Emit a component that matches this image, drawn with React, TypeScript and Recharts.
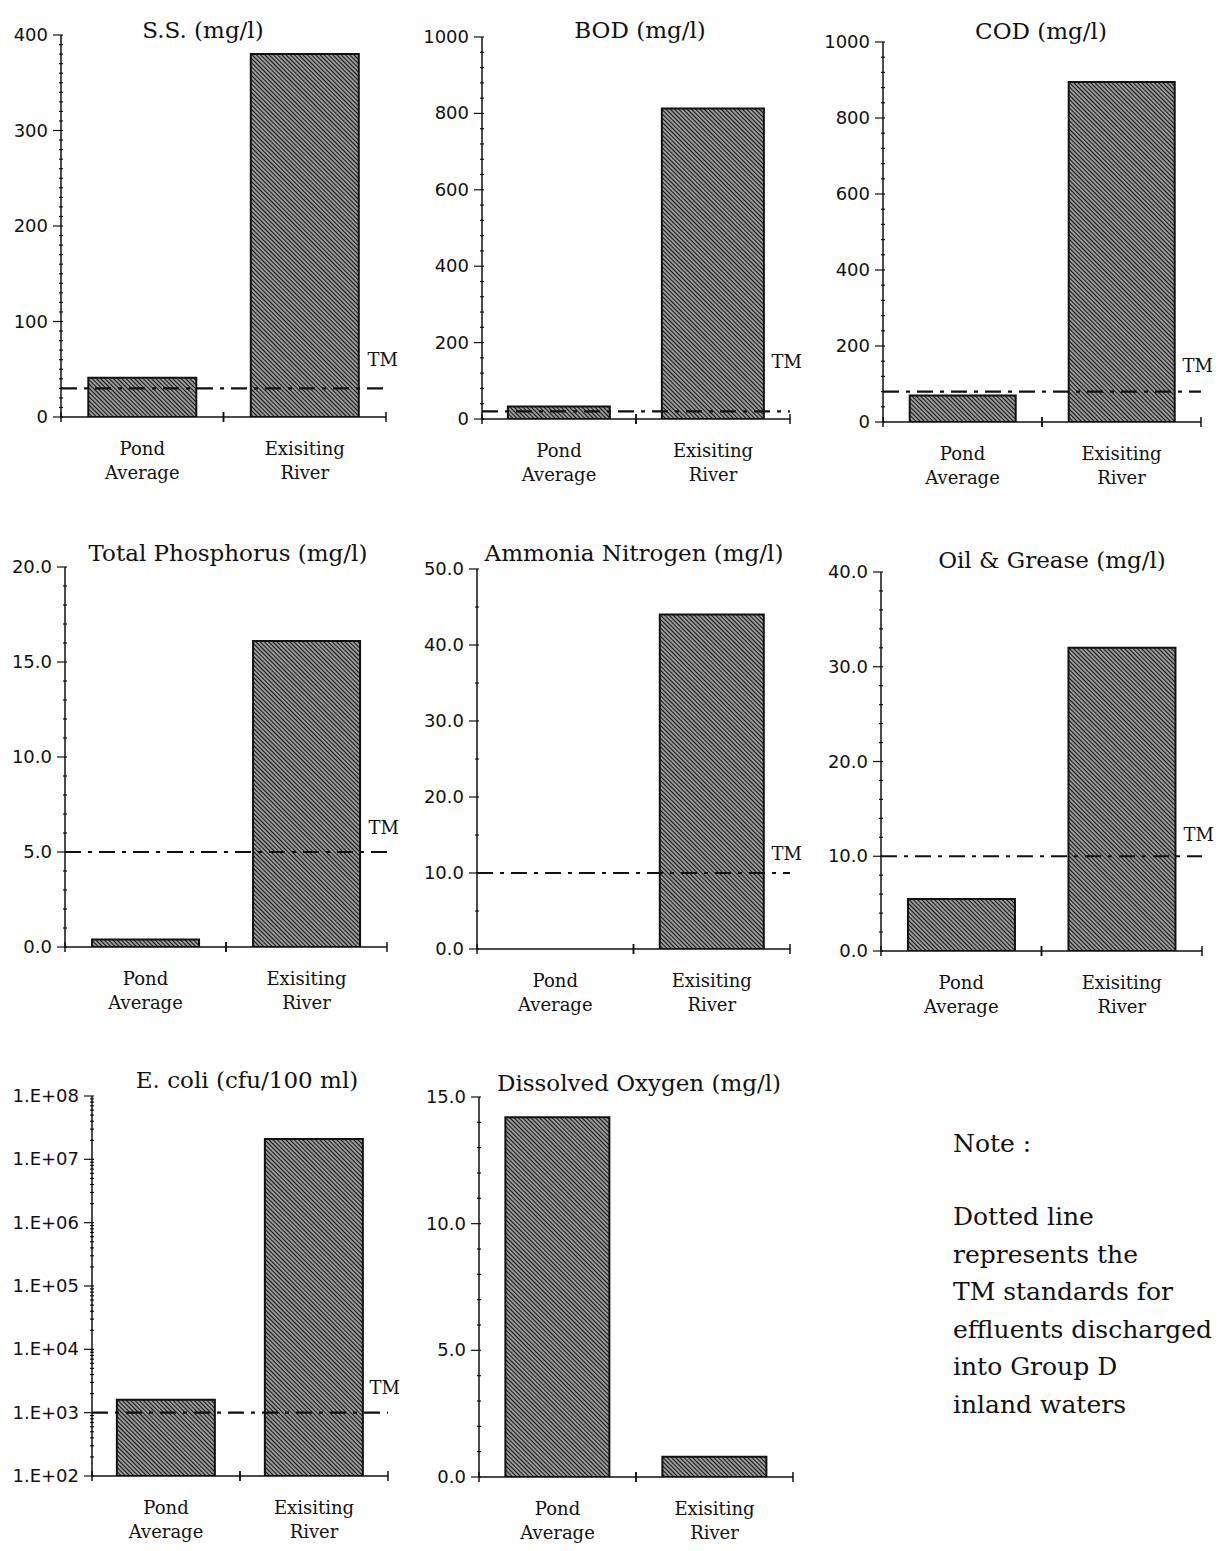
import React from 'react';
import { BarChart, Bar, XAxis, YAxis, ReferenceLine } from 'recharts';

// categories on every panel (two-line labels, split on '|')
const categories = ['Pond|Average', 'Exisiting|River'];

// values, [pond, river]
const ssValues = [41, 380];
const bodValues = [33, 813];
const codValues = [70, 895];
const phosphorusValues = [0.4, 16.1];
const ammoniaValues = [0, 44];
const oilGreaseValues = [5.5, 32];
const ecoliValues = [1600, 21000000];
const oxygenValues = [14.2, 0.8];

// TM standards (dotted line)
const ssTM = 30;
const bodTM = 20;
const codTM = 80;
const phosphorusTM = 5;
const ammoniaTM = 10;
const oilGreaseTM = 10;
const ecoliTM = 1000;

// major tick labels
const ssTicks = [0, 100, 200, 300, 400];
const bodTicks = [0, 200, 400, 600, 800, 1000];
const codTicks = [0, 200, 400, 600, 800, 1000];
const phosphorusTicks = [0, 5, 10, 15, 20];
const ammoniaTicks = [0, 10, 20, 30, 40, 50];
const oilGreaseTicks = [0, 10, 20, 30, 40];
const ecoliTicks = [1e2, 1e3, 1e4, 1e5, 1e6, 1e7, 1e8];
const oxygenTicks = [0, 5, 10, 15];

const noteLines = [
  'Dotted line',
  'represents the',
  'TM standards for',
  'effluents discharged',
  'into Group D',
  'inland waters',
];

const INK = '#111';
const Y_W = 80;
const M_TOP = 20;
const M_RIGHT = 40;
const X_H = 75;

type PanelDef = {
  id: string;
  title: string;
  values: number[];
  tm?: number;
  ticks: number[];
  minor: number;
  decimals: number;
  log?: boolean;
  axisX: number;
  topY: number;
  rightX: number;
  zeroY: number;
  titleX: number;
  titleY: number;
  tmDy?: number;
};

const panels: PanelDef[] = [
  { id: 'ss', title: 'S.S. (mg/l)', values: ssValues, tm: ssTM, ticks: ssTicks, minor: 10, decimals: 0,
    axisX: 61, topY: 35, rightX: 386, zeroY: 417, titleX: 203, titleY: 38, tmDy: 22 },
  { id: 'bod', title: 'BOD (mg/l)', values: bodValues, tm: bodTM, ticks: bodTicks, minor: 40, decimals: 0,
    axisX: 482, topY: 37, rightX: 790, zeroY: 419, titleX: 640, titleY: 38, tmDy: 43 },
  { id: 'cod', title: 'COD (mg/l)', values: codValues, tm: codTM, ticks: codTicks, minor: 40, decimals: 0,
    axisX: 883, topY: 42, rightX: 1201, zeroY: 422, titleX: 1041, titleY: 39, tmDy: 20 },
  { id: 'tp', title: 'Total Phosphorus (mg/l)', values: phosphorusValues, tm: phosphorusTM, ticks: phosphorusTicks, minor: 1, decimals: 1,
    axisX: 65, topY: 567, rightX: 387, zeroY: 947, titleX: 228, titleY: 561, tmDy: 18 },
  { id: 'nh3', title: 'Ammonia Nitrogen (mg/l)', values: ammoniaValues, tm: ammoniaTM, ticks: ammoniaTicks, minor: 5, decimals: 1,
    axisX: 477, topY: 569, rightX: 790, zeroY: 949, titleX: 634, titleY: 561, tmDy: 13 },
  { id: 'og', title: 'Oil & Grease (mg/l)', values: oilGreaseValues, tm: oilGreaseTM, ticks: oilGreaseTicks, minor: 2, decimals: 1,
    axisX: 881, topY: 572, rightX: 1202, zeroY: 951, titleX: 1052, titleY: 568, tmDy: 15 },
  { id: 'ecoli', title: 'E. coli (cfu/100 ml)', values: ecoliValues, tm: ecoliTM, ticks: ecoliTicks, minor: 0, decimals: 0, log: true,
    axisX: 92, topY: 1096, rightX: 388, zeroY: 1476, titleX: 247, titleY: 1088, tmDy: 19 },
  { id: 'do', title: 'Dissolved Oxygen (mg/l)', values: oxygenValues, ticks: oxygenTicks, minor: 1, decimals: 1,
    axisX: 479, topY: 1097, rightX: 793, zeroY: 1477, titleX: 639, titleY: 1091 },
];

// all tick positions (majors + minors), labels only drawn on majors
const buildTicks = (p: PanelDef) => {
  if (p.log) {
    const out: number[] = [];
    for (let k = 2; k < 8; k++) for (let m = 1; m < 10; m++) out.push(m * Math.pow(10, k));
    out.push(1e8);
    return out;
  }
  const max = p.ticks[p.ticks.length - 1];
  const out: number[] = [];
  const n = Math.round(max / p.minor);
  for (let i = 0; i <= n; i++) out.push(Number((i * p.minor).toFixed(6)));
  return out;
};

const isMajor = (p: PanelDef, v: number) => {
  if (p.log) {
    const l = Math.log10(v);
    return Math.abs(l - Math.round(l)) < 1e-6;
  }
  return p.ticks.some((t) => Math.abs(t - v) < 1e-6);
};

const formatTick = (p: PanelDef, v: number) => {
  if (p.log) return `1.E+${String(Math.round(Math.log10(v))).padStart(2, '0')}`;
  return v.toFixed(p.decimals);
};

const Panel = ({ p }: { p: PanelDef }) => {
  const plotW = p.rightX - p.axisX;
  const plotH = p.zeroY - p.topY;
  const width = Y_W + plotW + M_RIGHT;
  const height = M_TOP + plotH + X_H + 5;
  const axisY = M_TOP + plotH;
  const bw = plotW / categories.length;
  const data = categories.map((c, i) => ({ name: c, value: p.values[i] }));
  const allTicks = buildTicks(p);
  const domain = p.log ? [1e2, 1e8] : [0, p.ticks[p.ticks.length - 1]];

  const yTick = (props: any) => {
    const v = props.payload.value;
    const major = isMajor(p, v);
    return (
      <g>
        <line x1={major ? Y_W - 8 : Y_W - 2} x2={Y_W + 2} y1={props.y} y2={props.y} stroke={INK} strokeWidth={1.2} />
        {major && (
          <text x={Y_W - 13} y={props.y} dy={6} textAnchor="end" fontFamily="DejaVu Sans" fontSize={18} fill={INK}>
            {formatTick(p, v)}
          </text>
        )}
      </g>
    );
  };

  const xTick = (props: any) => {
    const [l1, l2] = String(props.payload.value).split('|');
    const x = props.x;
    return (
      <g>
        <line x1={x - bw / 2} x2={x - bw / 2} y1={axisY - 5} y2={axisY + 5} stroke={INK} strokeWidth={1.5} />
        <line x1={x + bw / 2} x2={x + bw / 2} y1={axisY - 5} y2={axisY + 5} stroke={INK} strokeWidth={1.5} />
        <text x={x} y={axisY + 38} textAnchor="middle" fontFamily="DejaVu Serif" fontSize={18} fill={INK}>{l1}</text>
        <text x={x} y={axisY + 62} textAnchor="middle" fontFamily="DejaVu Serif" fontSize={18} fill={INK}>{l2}</text>
      </g>
    );
  };

  const tmLabel = (props: any) => {
    const vb = props.viewBox || {};
    return (
      <text x={(vb.x || 0) + (vb.width || 0) + 12} y={(vb.y || 0) - (p.tmDy || 20)} textAnchor="end"
        fontFamily="DejaVu Serif" fontSize={18} fill={INK}>
        TM
      </text>
    );
  };

  return (
    <div style={{ position: 'absolute', left: p.axisX - Y_W, top: p.topY - M_TOP }}>
      <BarChart width={width} height={height} data={data} barCategoryGap="16.8%"
        margin={{ top: M_TOP, right: M_RIGHT, bottom: 5, left: 0 }}>
        <defs>
          <pattern id={`hatch-${p.id}`} patternUnits="userSpaceOnUse" width={3} height={3} patternTransform="rotate(-45)">
            <rect width={3} height={3} fill="#fff" />
            <line x1={1.5} y1={0} x2={1.5} y2={3} stroke={INK} strokeWidth={1.85} />
          </pattern>
        </defs>
        <XAxis dataKey="name" height={X_H} interval={0} tickLine={false}
          axisLine={{ stroke: INK, strokeWidth: 1.5 }} tick={xTick} />
        <YAxis type="number" width={Y_W} domain={domain} scale={p.log ? 'log' : 'auto'} allowDataOverflow
          ticks={allTicks} interval={0} tickLine={false} axisLine={{ stroke: INK, strokeWidth: 1.5 }} tick={yTick} />
        <Bar dataKey="value" fill={`url(#hatch-${p.id})`} stroke={INK} strokeWidth={2} isAnimationActive={false} />
        {p.tm !== undefined && (
          <ReferenceLine y={p.tm} stroke={INK} strokeWidth={2.2} strokeDasharray="16 7 4 7" label={tmLabel} />
        )}
      </BarChart>
    </div>
  );
};

export default function App() {
  return (
    <div style={{ position: 'absolute', left: 0, top: 0, width: 1224, height: 1551, background: '#fff', overflow: 'hidden' }}>
      {panels.map((p) => (
        <Panel key={p.id} p={p} />
      ))}
      <svg width={1224} height={1551} style={{ position: 'absolute', left: 0, top: 0, pointerEvents: 'none' }}>
        {panels.map((p) => (
          <text key={p.id} x={p.titleX} y={p.titleY} textAnchor="middle" fontFamily="DejaVu Serif" fontSize={23} fill={INK}>
            {p.title}
          </text>
        ))}
        <text x={953} y={1152} fontFamily="DejaVu Serif" fontSize={25} fill={INK}>Note :</text>
        {noteLines.map((line, i) => (
          <text key={line} x={953} y={1225 + i * 37.6} fontFamily="DejaVu Serif" fontSize={25} fill={INK}>
            {line}
          </text>
        ))}
      </svg>
    </div>
  );
}
